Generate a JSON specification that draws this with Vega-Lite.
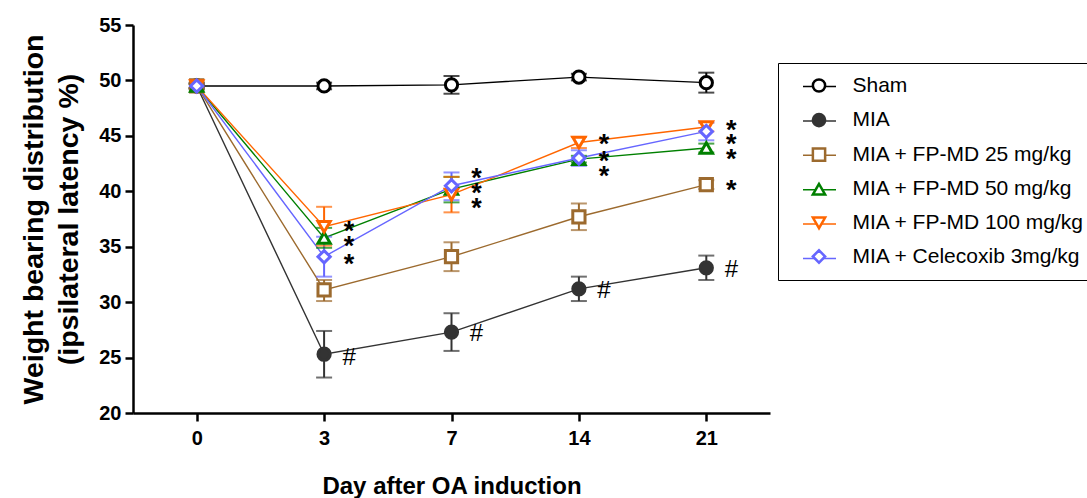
{
  "$schema": "https://vega.github.io/schema/vega-lite/v6.json",
  "width": 637,
  "height": 388,
  "autosize": {"type": "none"},
  "padding": {"left": 133, "top": 25, "right": 317, "bottom": 85},
  "background": "white",
  "config": {
    "font": "Liberation Sans",
    "view": {"stroke": null},
    "axis": {
      "domainColor": "black", "domainWidth": 2.5, "tickColor": "black", "tickWidth": 2.5, "tickSize": 8,
      "labelFont": "Liberation Sans", "labelFontWeight": "bold", "labelFontSize": 20, "labelColor": "black",
      "titleFont": "Liberation Sans", "titleFontWeight": "bold", "titleColor": "black", "grid": false
    },
    "axisX": {"labelAngle": 0, "labelPadding": 7, "titleFontSize": 24, "titlePadding": 26},
    "axisY": {"labelPadding": 4, "titleFontSize": 28.5, "titlePadding": 15, "titleLineHeight": 35}
  },
  "datasets": {
    "main": [
      {"day": 0, "group": "Sham", "mean": 49.5, "lo": 49.3, "hi": 49.7},
      {"day": 3, "group": "Sham", "mean": 49.5, "lo": 49.2, "hi": 49.8},
      {"day": 7, "group": "Sham", "mean": 49.6, "lo": 48.8, "hi": 50.4},
      {"day": 14, "group": "Sham", "mean": 50.3, "lo": 50.0, "hi": 50.6},
      {"day": 21, "group": "Sham", "mean": 49.8, "lo": 48.9, "hi": 50.7},
      {"day": 0, "group": "MIA", "mean": 49.5, "lo": 49.2, "hi": 49.8},
      {"day": 3, "group": "MIA", "mean": 25.3, "lo": 23.2, "hi": 27.4},
      {"day": 7, "group": "MIA", "mean": 27.3, "lo": 25.6, "hi": 29.0},
      {"day": 14, "group": "MIA", "mean": 31.2, "lo": 30.1, "hi": 32.3},
      {"day": 21, "group": "MIA", "mean": 33.1, "lo": 32.0, "hi": 34.2},
      {"day": 0, "group": "MIA + FP-MD 25 mg/kg", "mean": 49.5, "lo": 49.3, "hi": 49.7},
      {"day": 3, "group": "MIA + FP-MD 25 mg/kg", "mean": 31.1, "lo": 30.1, "hi": 32.0},
      {"day": 7, "group": "MIA + FP-MD 25 mg/kg", "mean": 34.1, "lo": 32.8, "hi": 35.4},
      {"day": 14, "group": "MIA + FP-MD 25 mg/kg", "mean": 37.7, "lo": 36.5, "hi": 38.9},
      {"day": 21, "group": "MIA + FP-MD 25 mg/kg", "mean": 40.6, "lo": 40.2, "hi": 41.0},
      {"day": 0, "group": "MIA + FP-MD 50 mg/kg", "mean": 49.5, "lo": 49.3, "hi": 49.7},
      {"day": 3, "group": "MIA + FP-MD 50 mg/kg", "mean": 35.8, "lo": 34.9, "hi": 36.7},
      {"day": 7, "group": "MIA + FP-MD 50 mg/kg", "mean": 40.2, "lo": 39.0, "hi": 41.3},
      {"day": 14, "group": "MIA + FP-MD 50 mg/kg", "mean": 42.9, "lo": 42.6, "hi": 43.2},
      {"day": 21, "group": "MIA + FP-MD 50 mg/kg", "mean": 43.9, "lo": 43.5, "hi": 44.3},
      {"day": 0, "group": "MIA + FP-MD 100 mg/kg", "mean": 49.5, "lo": 49.3, "hi": 49.7},
      {"day": 3, "group": "MIA + FP-MD 100 mg/kg", "mean": 36.8, "lo": 35.1, "hi": 38.6},
      {"day": 7, "group": "MIA + FP-MD 100 mg/kg", "mean": 39.7, "lo": 38.1, "hi": 41.3},
      {"day": 14, "group": "MIA + FP-MD 100 mg/kg", "mean": 44.4, "lo": 43.9, "hi": 44.9},
      {"day": 21, "group": "MIA + FP-MD 100 mg/kg", "mean": 45.8, "lo": 45.4, "hi": 46.2},
      {"day": 0, "group": "MIA + Celecoxib 3mg/kg", "mean": 49.5, "lo": 49.3, "hi": 49.7},
      {"day": 3, "group": "MIA + Celecoxib 3mg/kg", "mean": 34.1, "lo": 32.3, "hi": 35.9},
      {"day": 7, "group": "MIA + Celecoxib 3mg/kg", "mean": 40.5, "lo": 39.2, "hi": 41.7},
      {"day": 14, "group": "MIA + Celecoxib 3mg/kg", "mean": 43.0, "lo": 42.3, "hi": 43.7},
      {"day": 21, "group": "MIA + Celecoxib 3mg/kg", "mean": 45.4, "lo": 44.6, "hi": 46.2}
    ],
    "stars": [
      {"day": 3, "v": 36.9, "label": "*"},
      {"day": 3, "v": 35.5, "label": "*"},
      {"day": 3, "v": 33.9, "label": "*"},
      {"day": 7, "v": 41.65, "label": "*"},
      {"day": 7, "v": 40.3, "label": "*"},
      {"day": 7, "v": 38.95, "label": "*"},
      {"day": 14, "v": 44.7, "label": "*"},
      {"day": 14, "v": 43.2, "label": "*"},
      {"day": 14, "v": 41.8, "label": "*"},
      {"day": 21, "v": 46.0, "label": "*"},
      {"day": 21, "v": 44.7, "label": "*"},
      {"day": 21, "v": 43.4, "label": "*"},
      {"day": 21, "v": 40.6, "label": "*"}
    ],
    "hashes": [
      {"day": 3, "v": 25.1, "label": "#"},
      {"day": 7, "v": 27.3, "label": "#"},
      {"day": 14, "v": 31.2, "label": "#"},
      {"day": 21, "v": 33.1, "label": "#"}
    ]
  },
  "resolve": {"scale": {"color": "independent", "fill": "independent", "shape": "independent", "size": "independent"}},
  "layer": [
    {
      "data": {"name": "main"},
      "mark": {"type": "line", "strokeWidth": 1.4},
      "encoding": {
        "x": {"field": "day", "type": "ordinal", "title": "Day after OA induction", "scale": {"type": "point", "padding": 0.5}},
        "y": {"field": "mean", "type": "quantitative", "title": ["Weight bearing distribution", "(ipsilateral latency %)"],
              "scale": {"domain": [20, 55], "nice": false, "zero": false},
              "axis": {"values": [20, 25, 30, 35, 40, 45, 50, 55]}},
        "color": {"field": "group", "type": "nominal",
          "scale": {"domain": ["Sham", "MIA", "MIA + FP-MD 25 mg/kg", "MIA + FP-MD 50 mg/kg", "MIA + FP-MD 100 mg/kg", "MIA + Celecoxib 3mg/kg"],
                    "range": ["#000000", "#333333", "#9C6A2E", "#008000", "#FF6600", "#6666FF"]},
          "legend": {"orient": "none", "legendX": 645, "legendY": 32, "title": null, "padding": 12, "symbolOffset": 12,
                     "symbolType": "stroke", "symbolSize": 1089, "symbolStrokeWidth": 1.5,
                     "labelColor": "transparent", "labelFont": "Liberation Sans", "labelFontSize": 21, "labelLimit": 600, "labelOffset": 30,
                     "rowPadding": 6.4}}
      }
    },
    {
      "data": {"name": "main"},
      "mark": {"type": "rule", "strokeWidth": 2},
      "encoding": {
        "x": {"field": "day", "type": "ordinal", "title": "Day after OA induction"},
        "y": {"field": "lo", "type": "quantitative", "title": ["Weight bearing distribution", "(ipsilateral latency %)"]},
        "y2": {"field": "hi"},
        "color": {"field": "group", "type": "nominal", "legend": null,
          "scale": {"domain": ["Sham", "MIA", "MIA + FP-MD 25 mg/kg", "MIA + FP-MD 50 mg/kg", "MIA + FP-MD 100 mg/kg", "MIA + Celecoxib 3mg/kg"],
                    "range": ["#000000", "#333333", "#9C6A2E", "#008000", "#FF6600", "#6666FF"]}}
      }
    },
    {
      "data": {"name": "main"},
      "mark": {"type": "tick", "size": 16, "thickness": 2},
      "encoding": {
        "x": {"field": "day", "type": "ordinal", "title": "Day after OA induction"},
        "y": {"field": "lo", "type": "quantitative", "title": ["Weight bearing distribution", "(ipsilateral latency %)"]},
        "color": {"field": "group", "type": "nominal", "legend": null,
          "scale": {"domain": ["Sham", "MIA", "MIA + FP-MD 25 mg/kg", "MIA + FP-MD 50 mg/kg", "MIA + FP-MD 100 mg/kg", "MIA + Celecoxib 3mg/kg"],
                    "range": ["#000000", "#333333", "#9C6A2E", "#008000", "#FF6600", "#6666FF"]}}
      }
    },
    {
      "data": {"name": "main"},
      "mark": {"type": "tick", "size": 16, "thickness": 2},
      "encoding": {
        "x": {"field": "day", "type": "ordinal", "title": "Day after OA induction"},
        "y": {"field": "hi", "type": "quantitative", "title": ["Weight bearing distribution", "(ipsilateral latency %)"]},
        "color": {"field": "group", "type": "nominal", "legend": null,
          "scale": {"domain": ["Sham", "MIA", "MIA + FP-MD 25 mg/kg", "MIA + FP-MD 50 mg/kg", "MIA + FP-MD 100 mg/kg", "MIA + Celecoxib 3mg/kg"],
                    "range": ["#000000", "#333333", "#9C6A2E", "#008000", "#FF6600", "#6666FF"]}}
      }
    },
    {
      "data": {"name": "main"},
      "mark": {"type": "point", "filled": false, "strokeWidth": 3, "opacity": 1},
      "encoding": {
        "x": {"field": "day", "type": "ordinal", "title": "Day after OA induction"},
        "y": {"field": "mean", "type": "quantitative", "title": ["Weight bearing distribution", "(ipsilateral latency %)"]},
        "color": {"field": "group", "type": "nominal",
          "scale": {"domain": ["Sham", "MIA", "MIA + FP-MD 25 mg/kg", "MIA + FP-MD 50 mg/kg", "MIA + FP-MD 100 mg/kg", "MIA + Celecoxib 3mg/kg"],
                    "range": ["#000000", "#333333", "#9C6A2E", "#008000", "#FF6600", "#6666FF"]},
          "legend": {"orient": "none", "legendX": 645, "legendY": 38, "title": null, "padding": 12, "symbolOffset": 18.5,
                     "symbolSize": 260, "symbolStrokeWidth": 2.5,
                     "labelColor": "black", "labelFont": "Liberation Sans", "labelFontSize": 21, "labelLimit": 600, "labelOffset": 23,
                     "rowPadding": 11.6, "strokeColor": "black",
                     "encode": {"symbols": {"update": {"fill": {"signal": "datum.value === 'MIA' ? '#333333' : 'transparent'"}}}}}},
        "fill": {"field": "group", "type": "nominal",
          "scale": {"domain": ["Sham", "MIA", "MIA + FP-MD 25 mg/kg", "MIA + FP-MD 50 mg/kg", "MIA + FP-MD 100 mg/kg", "MIA + Celecoxib 3mg/kg"],
                    "range": ["#ffffff", "#333333", "#ffffff", "#ffffff", "#ffffff", "#ffffff"]}},
        "shape": {"field": "group", "type": "nominal",
          "scale": {"domain": ["Sham", "MIA", "MIA + FP-MD 25 mg/kg", "MIA + FP-MD 50 mg/kg", "MIA + FP-MD 100 mg/kg", "MIA + Celecoxib 3mg/kg"],
                    "range": ["circle", "circle", "square", "triangle-up", "triangle-down", "diamond"]}},
        "size": {"field": "group", "type": "nominal", "legend": null,
          "scale": {"domain": ["Sham", "MIA", "MIA + FP-MD 25 mg/kg", "MIA + FP-MD 50 mg/kg", "MIA + FP-MD 100 mg/kg", "MIA + Celecoxib 3mg/kg"],
                    "range": [150, 150, 190, 210, 210, 300]}}
      }
    },
    {
      "data": {"name": "stars"},
      "mark": {"type": "text", "fontSize": 27, "fontWeight": "bold", "dx": 25, "dy": 6, "align": "center", "baseline": "middle", "color": "black", "font": "Liberation Sans"},
      "encoding": {
        "x": {"field": "day", "type": "ordinal", "title": "Day after OA induction"},
        "y": {"field": "v", "type": "quantitative", "title": ["Weight bearing distribution", "(ipsilateral latency %)"]},
        "text": {"field": "label"}
      }
    },
    {
      "data": {"name": "hashes"},
      "mark": {"type": "text", "fontSize": 24, "dx": 25, "dy": 2, "align": "center", "baseline": "middle", "color": "black", "font": "Liberation Sans"},
      "encoding": {
        "x": {"field": "day", "type": "ordinal", "title": "Day after OA induction"},
        "y": {"field": "v", "type": "quantitative", "title": ["Weight bearing distribution", "(ipsilateral latency %)"]},
        "text": {"field": "label"}
      }
    }
  ]
}
